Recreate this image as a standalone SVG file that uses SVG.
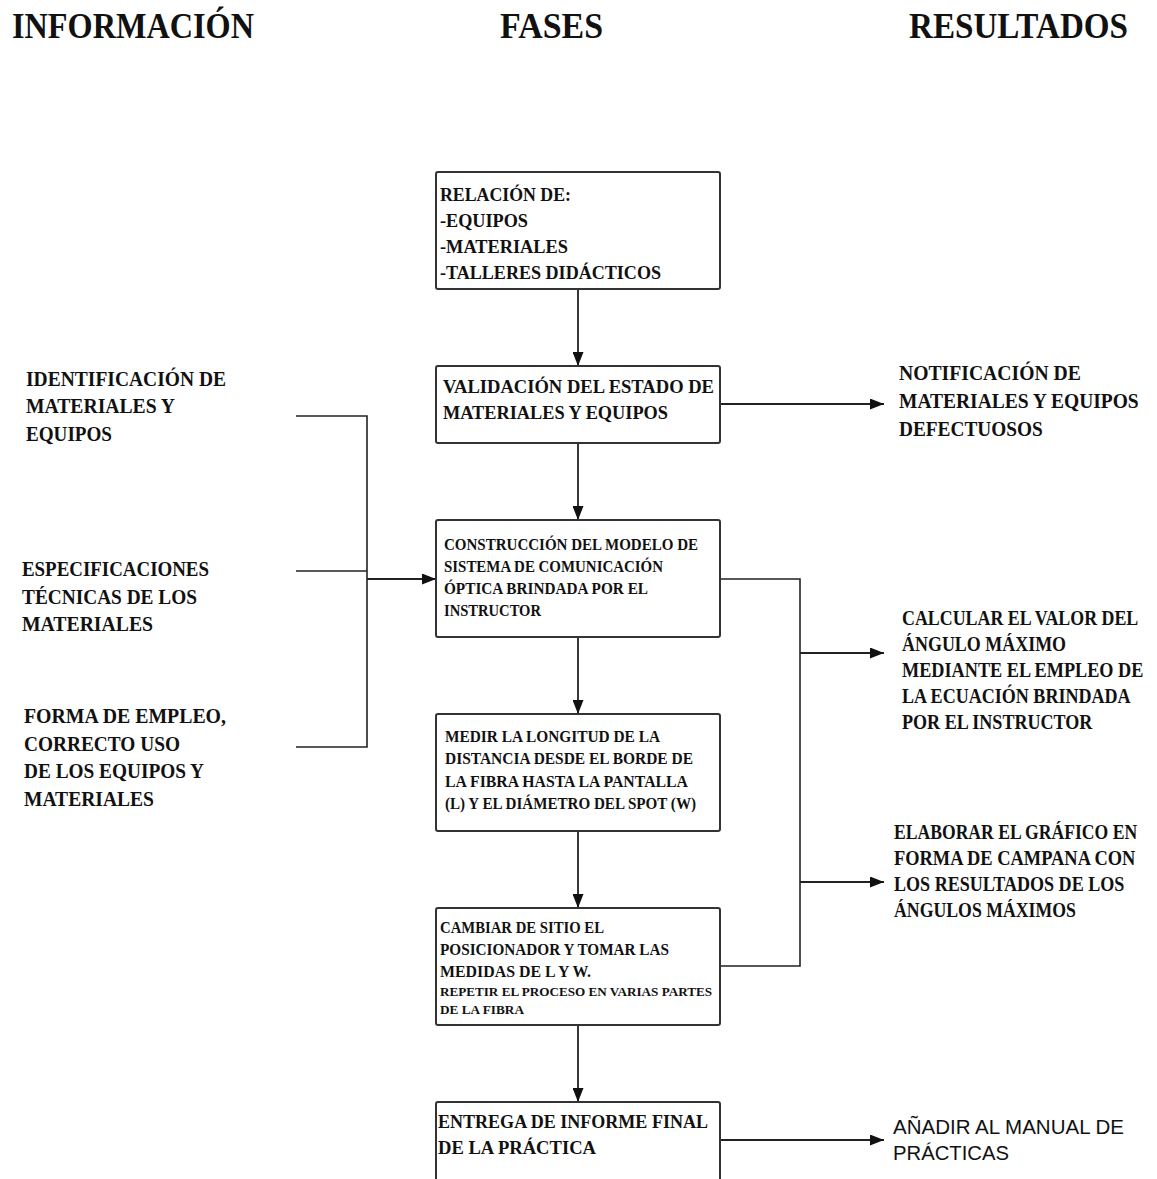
<svg xmlns="http://www.w3.org/2000/svg" width="1157" height="1179" viewBox="0 0 1157 1179">
<defs>
<marker id="ah" viewBox="0 0 14 11" refX="14" refY="5.5" markerWidth="14" markerHeight="11" markerUnits="userSpaceOnUse" orient="auto">
<path d="M0,0 L14,5.5 L0,11 Z" fill="#111"/>
</marker>
</defs>
<style>
text{font-family:"Liberation Serif","Times New Roman",serif;fill:#111;font-weight:bold}
.h{font-size:35px}
.b{font-size:19px}
.s{font-size:16px}
.xs{font-size:13px}
.l{font-size:21px}
.sans{font-family:"Liberation Sans",Arial,sans-serif;font-weight:normal;font-size:21px}
.box{fill:#fff;stroke:#333;stroke-width:2}
.c{fill:none;stroke:#222;stroke-width:1.6}
.ca{fill:none;stroke:#222;stroke-width:1.8;marker-end:url(#ah)}
</style>
<rect width="1157" height="1179" fill="#fff"/>
<g id="headers">
<text class="h" x="12" y="38" textLength="242" lengthAdjust="spacingAndGlyphs">INFORMACIÓN</text>
<text class="h" x="500" y="38" textLength="103" lengthAdjust="spacingAndGlyphs">FASES</text>
<text class="h" x="909" y="38" textLength="219" lengthAdjust="spacingAndGlyphs">RESULTADOS</text>
</g>
<g id="connectors">
<line class="ca" x1="578" y1="289" x2="578" y2="366"/>
<line class="ca" x1="578" y1="443" x2="578" y2="520"/>
<line class="ca" x1="578" y1="637" x2="578" y2="714"/>
<line class="ca" x1="578" y1="831" x2="578" y2="908"/>
<line class="ca" x1="578" y1="1025" x2="578" y2="1102"/>
<polyline class="c" points="296,416 367,416 367,747 296,747"/>
<line class="c" x1="296" y1="571" x2="367" y2="571"/>
<line class="ca" x1="367" y1="579" x2="436" y2="579"/>
<line class="ca" x1="720" y1="404" x2="884" y2="404"/>
<polyline class="c" points="720,579 800,579 800,966 720,966"/>
<line class="ca" x1="800" y1="653" x2="884" y2="653"/>
<line class="ca" x1="800" y1="882" x2="884" y2="882"/>
<line class="ca" x1="720" y1="1140" x2="884" y2="1140"/>
</g>
<g id="n1">
<rect class="box" x="436" y="172" width="284" height="117" rx="2"/>
<text class="b" x="440" y="201" textLength="131" lengthAdjust="spacingAndGlyphs">RELACIÓN DE:</text>
<text class="b" x="440" y="227" textLength="88" lengthAdjust="spacingAndGlyphs">-EQUIPOS</text>
<text class="b" x="440" y="253" textLength="128" lengthAdjust="spacingAndGlyphs">-MATERIALES</text>
<text class="b" x="440" y="279" textLength="221" lengthAdjust="spacingAndGlyphs">-TALLERES DIDÁCTICOS</text>
</g>
<g id="n2">
<rect class="box" x="436" y="366" width="284" height="77" rx="2"/>
<text class="b" x="443" y="393" textLength="271" lengthAdjust="spacingAndGlyphs">VALIDACIÓN DEL ESTADO DE</text>
<text class="b" x="443" y="419" textLength="225" lengthAdjust="spacingAndGlyphs">MATERIALES Y EQUIPOS</text>
</g>
<g id="n3">
<rect class="box" x="436" y="520" width="284" height="117" rx="2"/>
<text class="s" x="444" y="550" textLength="254" lengthAdjust="spacingAndGlyphs">CONSTRUCCIÓN DEL MODELO DE</text>
<text class="s" x="444" y="572" textLength="219" lengthAdjust="spacingAndGlyphs">SISTEMA DE COMUNICACIÓN</text>
<text class="s" x="444" y="594" textLength="204" lengthAdjust="spacingAndGlyphs">ÓPTICA BRINDADA POR EL</text>
<text class="s" x="444" y="616" textLength="97" lengthAdjust="spacingAndGlyphs">INSTRUCTOR</text>
</g>
<g id="n4">
<rect class="box" x="436" y="714" width="284" height="117" rx="2"/>
<text class="s" x="445" y="742" textLength="215" lengthAdjust="spacingAndGlyphs">MEDIR LA LONGITUD DE LA</text>
<text class="s" x="445" y="764" textLength="248" lengthAdjust="spacingAndGlyphs">DISTANCIA DESDE EL BORDE DE</text>
<text class="s" x="445" y="787" textLength="243" lengthAdjust="spacingAndGlyphs">LA FIBRA HASTA LA PANTALLA</text>
<text class="s" x="445" y="809" textLength="251" lengthAdjust="spacingAndGlyphs">(L) Y EL DIÁMETRO DEL SPOT (W)</text>
</g>
<g id="n5">
<rect class="box" x="436" y="908" width="284" height="117" rx="2"/>
<text class="s" x="440" y="933" textLength="164" lengthAdjust="spacingAndGlyphs">CAMBIAR DE SITIO EL</text>
<text class="s" x="440" y="955" textLength="229" lengthAdjust="spacingAndGlyphs">POSICIONADOR Y TOMAR LAS</text>
<text class="s" x="440" y="977" textLength="151" lengthAdjust="spacingAndGlyphs">MEDIDAS DE L Y W.</text>
<text class="xs" x="440" y="996" textLength="272" lengthAdjust="spacingAndGlyphs">REPETIR EL PROCESO EN VARIAS PARTES</text>
<text class="xs" x="440" y="1014" textLength="84" lengthAdjust="spacingAndGlyphs">DE LA FIBRA</text>
</g>
<g id="n6">
<rect class="box" x="436" y="1102" width="284" height="90" rx="2"/>
<text class="b" x="438" y="1128" textLength="270" lengthAdjust="spacingAndGlyphs">ENTREGA DE INFORME FINAL</text>
<text class="b" x="438" y="1154" textLength="158" lengthAdjust="spacingAndGlyphs">DE LA PRÁCTICA</text>
</g>
<g id="i1">
<text class="l" x="26" y="386" textLength="200" lengthAdjust="spacingAndGlyphs">IDENTIFICACIÓN DE</text>
<text class="l" x="26" y="413" textLength="149" lengthAdjust="spacingAndGlyphs">MATERIALES Y</text>
<text class="l" x="26" y="441" textLength="86" lengthAdjust="spacingAndGlyphs">EQUIPOS</text>
</g>
<g id="i2">
<text class="l" x="22" y="576" textLength="187" lengthAdjust="spacingAndGlyphs">ESPECIFICACIONES</text>
<text class="l" x="22" y="604" textLength="175" lengthAdjust="spacingAndGlyphs">TÉCNICAS DE LOS</text>
<text class="l" x="22" y="631" textLength="131" lengthAdjust="spacingAndGlyphs">MATERIALES</text>
</g>
<g id="i3">
<text class="l" x="24" y="723" textLength="202" lengthAdjust="spacingAndGlyphs">FORMA DE EMPLEO,</text>
<text class="l" x="24" y="751" textLength="156" lengthAdjust="spacingAndGlyphs">CORRECTO USO</text>
<text class="l" x="24" y="778" textLength="180" lengthAdjust="spacingAndGlyphs">DE LOS EQUIPOS Y</text>
<text class="l" x="24" y="806" textLength="130" lengthAdjust="spacingAndGlyphs">MATERIALES</text>
</g>
<g id="r1" transform="translate(899,0) scale(0.85,1)">
<text class="l" x="0" y="380" textLength="214" lengthAdjust="spacingAndGlyphs">NOTIFICACIÓN DE</text>
<text class="l" x="0" y="408" textLength="282" lengthAdjust="spacingAndGlyphs">MATERIALES Y EQUIPOS</text>
<text class="l" x="0" y="436" textLength="169" lengthAdjust="spacingAndGlyphs">DEFECTUOSOS</text>
</g>
<g id="r2" transform="translate(902,0) scale(0.85,1)">
<text class="l" x="0" y="625" textLength="278" lengthAdjust="spacingAndGlyphs">CALCULAR EL VALOR DEL</text>
<text class="l" x="0" y="651" textLength="193" lengthAdjust="spacingAndGlyphs">ÁNGULO MÁXIMO</text>
<text class="l" x="0" y="677" textLength="284" lengthAdjust="spacingAndGlyphs">MEDIANTE EL EMPLEO DE</text>
<text class="l" x="0" y="703" textLength="269" lengthAdjust="spacingAndGlyphs">LA ECUACIÓN BRINDADA</text>
<text class="l" x="0" y="729" textLength="224" lengthAdjust="spacingAndGlyphs">POR EL INSTRUCTOR</text>
</g>
<g id="r3" transform="translate(894,0) scale(0.85,1)">
<text class="l" x="0" y="839" textLength="286" lengthAdjust="spacingAndGlyphs">ELABORAR EL GRÁFICO EN</text>
<text class="l" x="0" y="865" textLength="284" lengthAdjust="spacingAndGlyphs">FORMA DE CAMPANA CON</text>
<text class="l" x="0" y="891" textLength="271" lengthAdjust="spacingAndGlyphs">LOS RESULTADOS DE LOS</text>
<text class="l" x="0" y="917" textLength="214" lengthAdjust="spacingAndGlyphs">ÁNGULOS MÁXIMOS</text>
</g>
<g id="r4">
<text class="sans" x="893" y="1134" textLength="231" lengthAdjust="spacingAndGlyphs">AÑADIR AL MANUAL DE</text>
<text class="sans" x="893" y="1160" textLength="116" lengthAdjust="spacingAndGlyphs">PRÁCTICAS</text>
</g>
</svg>
